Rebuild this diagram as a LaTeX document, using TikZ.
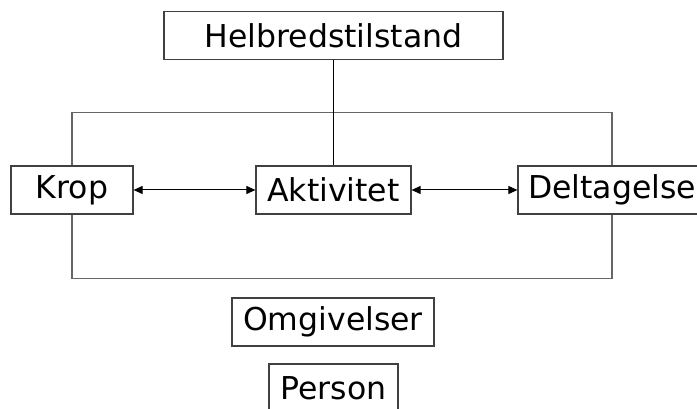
\documentclass[tikz,border=0pt]{standalone}
\usepackage{fontspec}
\setmainfont{DejaVu Sans}
\usetikzlibrary{arrows.meta}
\begin{document}
\begin{tikzpicture}[x=1pt, y=-1pt,
  box/.style={draw=black!75, line width=1.2pt, fill=white, minimum height=48pt, inner sep=0pt, font=\fontsize{31.5}{36}\selectfont},
  frame/.style={draw=black!60, line width=1.3pt},
  link/.style={{Triangle[length=9pt,width=8pt]}-{Triangle[length=9pt,width=8pt]}, line width=1pt}]
\useasboundingbox (0,0) rectangle (697,409);

% Health condition
\node[box, minimum width=339pt] (helbred) at (333.5,35.5) {Helbredstilstand};

% Middle row
\node[box, minimum width=122pt] (krop) at (72,190) {Krop};
\node[box, minimum width=155pt] (akt) at (333.5,190) {Aktivitet};
\node[box, minimum width=188pt] (delt) at (612,190) {Deltagelse};

% Context factors
\node[box, minimum width=202pt] (omg) at (333,322) {Omgivelser};
\node[box, minimum width=129pt] (person) at (333.5,388) {Person};

% Frame round the middle row
\draw[frame] (krop.north) -- ++(0,-53) -| (delt.north);
\draw[frame] (krop.south) -- ++(0,64) -| (delt.south);
\draw[frame, draw=black] (helbred) -- (akt);

% Links
\draw[link] (krop) -- (akt);
\draw[link] (akt) -- (delt);
\end{tikzpicture}
\end{document}
